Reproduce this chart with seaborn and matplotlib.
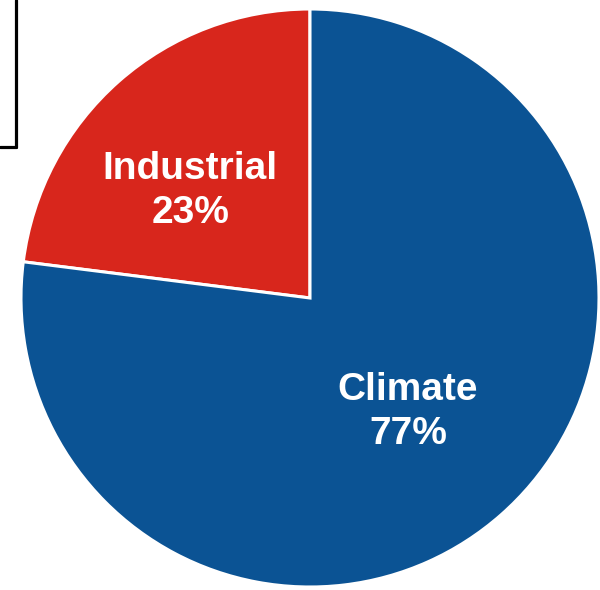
import matplotlib
matplotlib.use("Agg")
import matplotlib.pyplot as plt
import seaborn as sns
from matplotlib.lines import Line2D

categories = ["Industrial", "Climate"]
shares = [23, 77]
colors = ["#D8261C", "#0B5394"]

sns.set_theme(style="white")
plt.rcParams['font.family'] = ['Liberation Sans', 'DejaVu Sans']

fig = plt.figure(figsize=(6.0, 5.9), dpi=100)
W, H = 600, 590
cx, cy, r = 310, 298, 289
ax = fig.add_axes([(cx - r) / W, (H - cy - r) / H, 2 * r / W, 2 * r / H])

wedges, texts = ax.pie(
    shares, colors=colors, startangle=90, counterclock=True,
    labels=[f"{c}\n{v}%" for c, v in zip(categories, shares)],
    labeldistance=0.55,
    wedgeprops=dict(edgecolor="white", linewidth=2.2),
    textprops=dict(color="white", fontsize=28, fontweight="bold"),
)
label_pos = [(-0.415, 0.37), (0.339, -0.395)]
for t, p in zip(texts, label_pos):
    t.set_position(p)
    t.set_ha("center")
    t.set_va("center")
    t.set_linespacing(1.3)

ax.set_xlim(-1, 1)
ax.set_ylim(-1, 1)
ax.set_aspect("equal")
ax.axis("off")

# partial black frame in top-left corner
fig.add_artist(Line2D([0, 16 / W], [1 - 147 / H, 1 - 147 / H], color="black", lw=2.3, transform=fig.transFigure))
fig.add_artist(Line2D([16 / W, 16 / W], [1 - 147 / H, 1.0], color="black", lw=2.3, transform=fig.transFigure))

fig.savefig("out.png", dpi=100)
